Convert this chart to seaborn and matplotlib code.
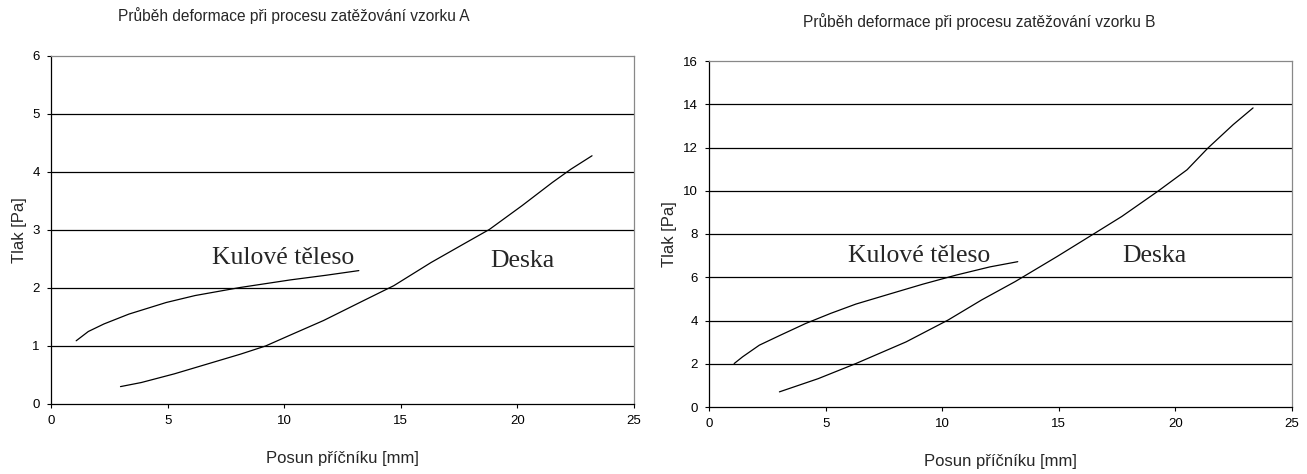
import matplotlib
matplotlib.use("Agg")
import matplotlib.pyplot as plt
import seaborn as sns
import pandas as pd

# Vzorek A
kul_a_x = [1.08, 1.6, 2.27, 3.34, 4.94, 6.18, 8.13, 10.27, 11.8, 13.2]
kul_a_y = [1.09, 1.25, 1.38, 1.55, 1.75, 1.87, 2.01, 2.14, 2.22, 2.30]
desk_a_x = [2.98, 3.87, 5.29, 6.71, 8.13, 9.2, 10.27, 11.69, 13.29, 14.7,
            16.3, 17.7, 18.8, 20.2, 21.5, 22.3, 23.2]
desk_a_y = [0.30, 0.37, 0.52, 0.69, 0.86, 1.0, 1.19, 1.44, 1.76, 2.04,
            2.44, 2.76, 3.01, 3.42, 3.82, 4.05, 4.28]

# Vzorek B
kul_b_x = [1.08, 1.44, 2.16, 3.06, 4.14, 5.22, 6.3, 7.73, 9.17, 10.6, 12.05, 13.24]
kul_b_y = [2.01, 2.32, 2.86, 3.32, 3.86, 4.33, 4.76, 5.22, 5.68, 6.10, 6.48, 6.72]
desk_b_x = [3.02, 4.68, 6.3, 8.45, 10.25, 11.69, 13.13, 14.93, 16.55, 17.7,
            19.24, 20.5, 21.4, 22.48, 23.33]
desk_b_y = [0.70, 1.31, 2.01, 3.01, 4.02, 4.95, 5.80, 6.96, 8.04, 8.81,
            9.97, 10.97, 11.98, 13.06, 13.83]

titles = ["Průběh deformace při procesu zatěžování vzorku A",
          "Průběh deformace při procesu zatěžování vzorku B"]

sns.set_style("white")
plt.rcParams['font.family'] = ['Liberation Sans', 'DejaVu Sans']

W, H = 1307, 474
fig = plt.figure(figsize=(W / 100, H / 100), dpi=100)


def make_axes(x0, x1, y0, y1):
    # pixel box -> figure fraction
    return fig.add_axes([x0 / W, 1 - y1 / H, (x1 - x0) / W, (y1 - y0) / H])


ax_a = make_axes(51, 634, 56, 404)
ax_b = make_axes(709, 1292, 61, 407)

panels = [
    (ax_a, kul_a_x, kul_a_y, desk_a_x, desk_a_y, 6, 1, (9.97, 2.52), (20.2, 2.46)),
    (ax_b, kul_b_x, kul_b_y, desk_b_x, desk_b_y, 16, 2, (9.0, 6.98), (19.1, 6.98)),
]

for ax, kx, ky, dx, dy, ymax, ystep, kpos, dpos in panels:
    sns.lineplot(x=kx, y=ky, ax=ax, color='black', linewidth=0.9, sort=False)
    sns.lineplot(x=dx, y=dy, ax=ax, color='black', linewidth=0.9, sort=False)
    ax.set_xlim(0, 25)
    ax.set_ylim(0, ymax)
    ax.set_xticks(range(0, 26, 5))
    ax.set_yticks(range(0, ymax + 1, ystep))
    ax.tick_params(axis='both', labelsize=9.5, length=3, width=0.8, pad=5,
                   direction='out', left=True, bottom=True, colors='black')
    for y in range(ystep, ymax, ystep):
        ax.axhline(y, color='black', linewidth=0.9, zorder=0)
    ax.spines['left'].set_color('black')
    ax.spines['bottom'].set_color('black')
    ax.spines['top'].set_color('#888888')
    ax.spines['right'].set_color('#888888')
    for s in ax.spines.values():
        s.set_linewidth(0.9)
    ax.set_xlabel("Posun příčníku [mm]", fontsize=12, labelpad=17)
    ax.set_ylabel("Tlak [Pa]", fontsize=12, labelpad=4)
    ax.text(kpos[0], kpos[1], "Kulové těleso", family=['Liberation Serif'],
            fontsize=18.5, ha='center', va='center')
    ax.text(dpos[0], dpos[1], "Deska", family=['Liberation Serif'],
            fontsize=18.5, ha='center', va='center')

fig.text(294 / W, 1 - 16 / H, titles[0], fontsize=11.2, ha='center', va='center')
fig.text(979 / W, 1 - 22 / H, titles[1], fontsize=11.2, ha='center', va='center')

fig.savefig("out.png", dpi=100)
